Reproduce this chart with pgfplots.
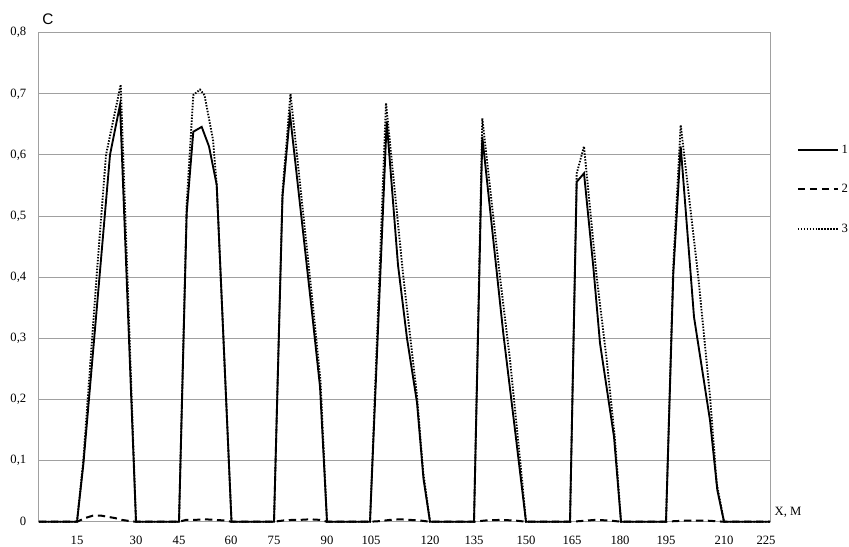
\documentclass[border=0pt]{standalone}
\usepackage{fontspec}
\setmainfont{Liberation Serif}
\newfontfamily\sansf{Liberation Sans}
\usepackage{pgfplots}
\pgfplotsset{compat=1.18}
\definecolor{gridgray}{RGB}{160,160,160}
\begin{document}
\begin{tikzpicture}
\useasboundingbox (-29.25pt,-18.2pt) rectangle (607.5pt,391.3pt);
\begin{axis}[
  at={(0,0)}, anchor=south west,
  scale only axis, width=548.25pt, height=366.75pt,
  xmin=39, xmax=770, ymin=0, ymax=0.8,
  axis line style={draw=gridgray, line width=0.75pt},
  xtick={77,136,179,231,274,327,371,430,474,526,572,620,666,724,766},
  xticklabels={15,30,45,60,75,90,105,120,135,150,165,180,195,210,225},
  ytick={0,0.1,0.2,0.3,0.4,0.5,0.6,0.7,0.8},
  yticklabels={0,{0,1},{0,2},{0,3},{0,4},{0,5},{0,6},{0,7},{0,8}},
  major tick length=0pt,
  ymajorgrids, grid style={gridgray, line width=0.75pt},
  tick label style={font=\fontsize{9.5}{11}\selectfont},
  yticklabel style={xshift=-6pt},
  xticklabel style={yshift=-7pt},
  clip=false,
  legend style={at={(rel axis cs:1.031,0.782)}, anchor=north west, draw=none, fill=none,
    font=\fontsize{9.5}{11}\selectfont, row sep=17.75pt, cells={anchor=west}},
  legend image code/.code={\draw[#1] (0pt,0pt) -- (30pt,0pt);},
]
\addplot[black, line width=1.4pt] coordinates {
(39,0) (77,0) (83.3,0.093) (110,0.600) (120,0.682) (136,0)
(179,0) (186.7,0.505) (193.3,0.638) (201.7,0.646) (209,0.614) (216.7,0.551) (231.5,0)
(274,0) (282.5,0.532) (290,0.666) (311.7,0.347) (320,0.221) (327,0)
(370,0) (386.7,0.655) (398,0.420) (407,0.300) (417,0.195) (423.5,0.070) (430,0)
(474,0) (482.3,0.630) (493.3,0.461) (503.3,0.308) (515,0.150) (526,0)
(570,0) (576.7,0.556) (584,0.570) (593.3,0.417) (600,0.292) (614,0.139) (621,0)
(666,0) (673.3,0.406) (680.7,0.614) (694,0.335) (710,0.166) (717.3,0.052) (724,0)
(770,0)
};
\addlegendentry{1}
\addplot[black, line width=1.5pt, dash pattern=on 5.5pt off 3.5pt] coordinates {
(39,0) (77,0) (85,0.006) (93,0.010) (101,0.010) (108,0.008) (115,0.006) (122,0.003) (130,0.001) (136,0)
(179,0) (186,0.003) (195,0.003) (205,0.004) (215,0.003) (225,0.002) (231.5,0)
(274,0) (283,0.002) (292,0.003) (300,0.003) (310,0.004) (320,0.003) (327,0)
(370,0) (380,0.001) (390,0.003) (400,0.004) (410,0.003) (420,0.002) (430,0)
(474,0) (485,0.002) (500,0.003) (515,0.002) (526,0)
(570,0) (580,0.001) (595,0.003) (610,0.002) (621,0)
(666,0) (675,0.001) (690,0.002) (705,0.002) (724,0)
(770,0)
};
\addlegendentry{2}
\addplot[black, line width=1.4pt, dash pattern=on 1.1pt off 1.1pt] coordinates {
(39,0) (77,0) (83.3,0.100) (97,0.410) (106,0.600) (120.7,0.715) (136,0)
(179,0) (186.7,0.520) (193.3,0.698) (200,0.707) (204.5,0.698) (213,0.625) (216.7,0.551) (231.5,0)
(274,0) (282.5,0.540) (290.5,0.700) (312.5,0.360) (320.5,0.230) (327,0)
(370,0) (386,0.685) (403.3,0.401) (416.7,0.210) (423.3,0.080) (430,0)
(474,0) (482.3,0.660) (500,0.400) (510,0.265) (521.7,0.074) (526,0)
(570,0) (576.7,0.570) (584,0.614) (596.7,0.400) (606.7,0.265) (615,0.134) (621,0)
(666,0) (673.3,0.420) (680.7,0.649) (698.3,0.400) (710,0.205) (716.7,0.063) (724,0)
(770,0)
};
\addlegendentry{3}
\end{axis}
\node[font=\fontsize{9.5}{11}\selectfont] at (561.75pt,6.75pt) {X, M};
\node[font=\sansf\fontsize{11.5}{13}\selectfont] at (6.75pt,377pt) {C};
\end{tikzpicture}
\end{document}
